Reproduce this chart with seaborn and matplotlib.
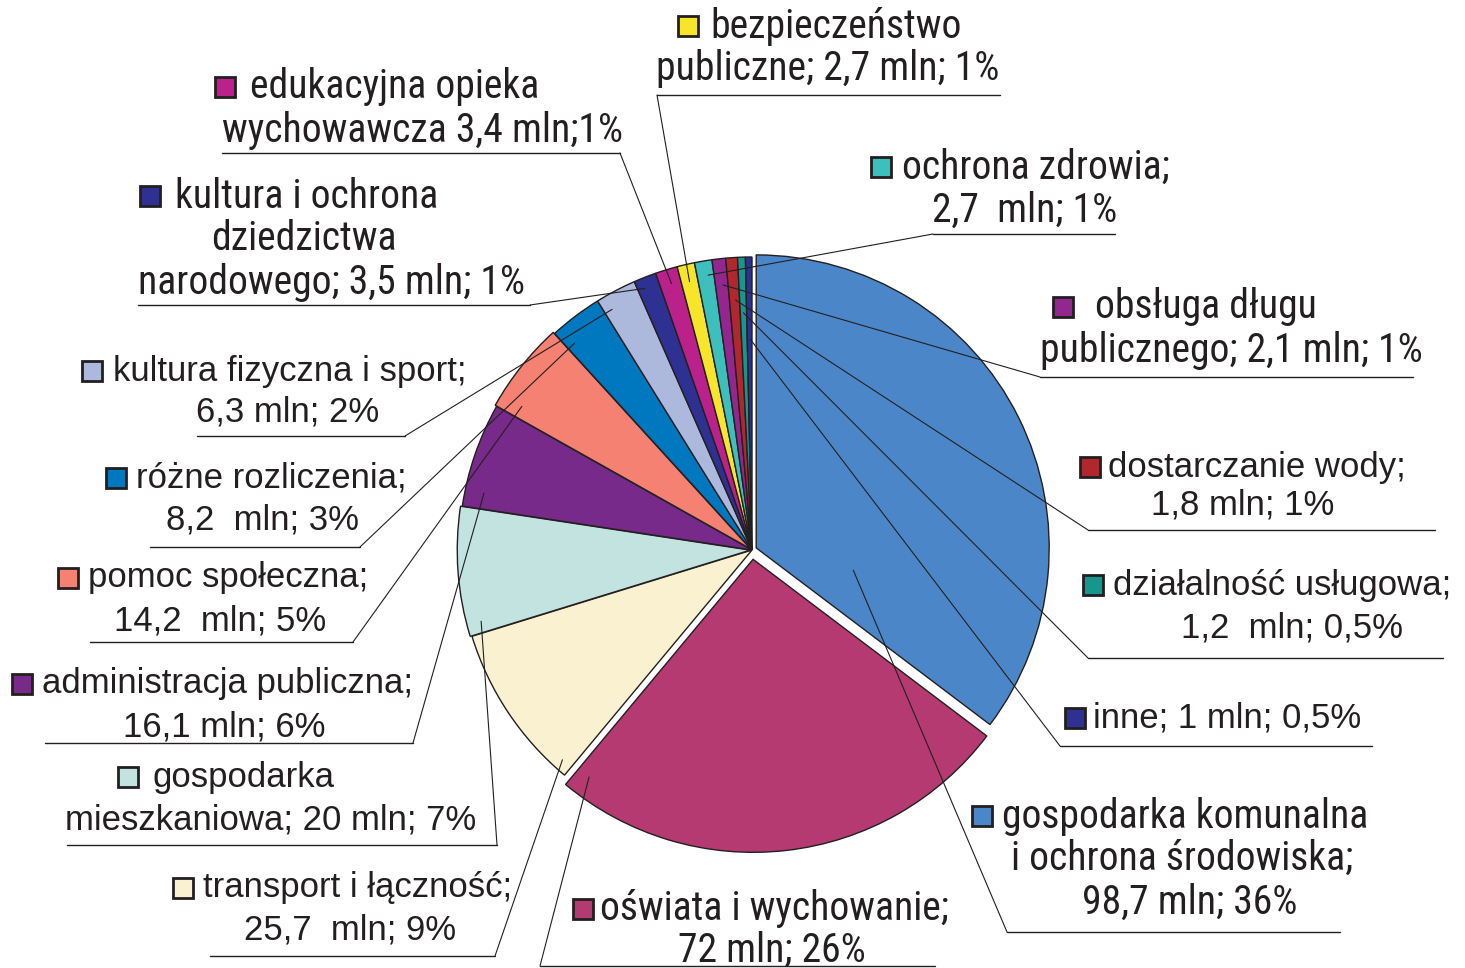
import matplotlib
matplotlib.use("Agg")
import numpy as np
import matplotlib.pyplot as plt
from matplotlib import font_manager
from matplotlib.patches import Rectangle
import seaborn as sns

# --- data ---
categories = [
    "gospodarka komunalna i ochrona środowiska",
    "oświata i wychowanie",
    "transport i łączność",
    "gospodarka mieszkaniowa",
    "administracja publiczna",
    "pomoc społeczna",
    "różne rozliczenia",
    "kultura fizyczna i sport",
    "kultura i ochrona dziedzictwa narodowego",
    "edukacyjna opieka wychowawcza",
    "bezpieczeństwo publiczne",
    "ochrona zdrowia",
    "obsługa długu publicznego",
    "dostarczanie wody",
    "działalność usługowa",
    "inne",
]
values_mln = [98.7, 72, 25.7, 20, 16.1, 14.2, 8.2, 6.3, 3.5, 3.4, 2.7, 2.7, 2.1, 1.8, 1.2, 1.0]
label_lines = [
    ["gospodarka komunalna", "i ochrona środowiska;", "98,7 mln; 36%"],
    ["oświata i wychowanie;", "72 mln; 26%"],
    ["transport i łączność;", "25,7  mln; 9%"],
    ["gospodarka", "mieszkaniowa; 20 mln; 7%"],
    ["administracja publiczna;", "16,1 mln; 6%"],
    ["pomoc społeczna;", "14,2  mln; 5%"],
    ["różne rozliczenia;", "8,2  mln; 3%"],
    ["kultura fizyczna i sport;", "6,3 mln; 2%"],
    ["kultura i ochrona", "dziedzictwa", "narodowego; 3,5 mln; 1%"],
    ["edukacyjna opieka", "wychowawcza 3,4 mln;1%"],
    ["bezpieczeństwo", "publiczne; 2,7 mln; 1%"],
    ["ochrona zdrowia;", "2,7  mln; 1%"],
    ["obsługa długu", "publicznego; 2,1 mln; 1%"],
    ["dostarczanie wody;", "1,8 mln; 1%"],
    ["działalność usługowa;", "1,2  mln; 0,5%"],
    ["inne; 1 mln; 0,5%"],
]
colors = [
    "#4b87c8", "#b53a72", "#f9f1d0", "#c2e3e0", "#772a8a", "#f48172",
    "#0078c0", "#adb8dd", "#2e3192", "#bb218b", "#f7e52a", "#3cbfbd",
    "#93278f", "#b0272d", "#16968c", "#2e3192",
]
# explode as a fraction of the radius
explode_frac = [0.016, 0.032, 0, 0.006, 0, 0.006, 0, 0, 0, 0, 0, 0, 0, 0, 0, 0]

# --- label layout in pixel coordinates (y down) ---
# box: legend square centre; x1: left of first line; cx: centres of the other lines
# ys: line centres; under: (x0, x1, y); side: end of underline where leader starts
# anchor: (fraction along wedge angle, fraction of radius)
layout = [
    dict(box=(982, 816), x1=1002, cx=[1182, 1190], ys=[816, 858, 902], under=(1007, 1340, 932), side="left", anchor=(0.81, 0.34), narrow=True),
    dict(box=(583, 909), x1=600, cx=[772], ys=[909, 950], under=(540, 935, 966), side="left", anchor=(0.97, 0.93), narrow=True),
    dict(box=(183, 888), x1=203, cx=[350], ys=[888, 930], under=(210, 495, 956), side="right", anchor=(0.07, 0.965), narrow=False),
    dict(box=(128, 777), x1=152, cx=[271], ys=[777, 820], under=(67, 497, 845), side="right", anchor=(0.09, 0.95), narrow=False),
    dict(box=(22, 684), x1=42, cx=[224], ys=[684, 727], under=(45, 413, 743), side="right", anchor=(0.16, 0.935), narrow=False),
    dict(box=(68, 578), x1=88, cx=[220], ys=[578, 621], under=(90, 353, 642), side="right", anchor=(0.14, 0.92), narrow=False),
    dict(box=(116, 478), x1=136, cx=[262], ys=[478, 520], under=(150, 360, 547), side="right", anchor=(0.16, 0.93), narrow=False),
    dict(box=(92, 371), x1=113, cx=[288], ys=[371, 412], under=(197, 405, 436), side="right", anchor=(0.2, 0.95), narrow=False),
    dict(box=(150, 196), x1=175, cx=[304, 331], ys=[196, 238, 282], under=(138, 530, 305), side="right", anchor=(0.31, 0.965), narrow=True),
    dict(box=(225, 87), x1=250, cx=[423], ys=[87, 130], under=(222, 620, 153), side="right", anchor=(0.54, 0.95), narrow=True),
    dict(box=(688, 26), x1=710, cx=[828], ys=[26, 68], under=(657, 1000, 95), side="left", anchor=(0.49, 0.94), narrow=True),
    dict(box=(881, 167), x1=902, cx=[1025], ys=[167, 210], under=(933, 1115, 234), side="left", anchor=(0.65, 0.95), narrow=True),
    dict(box=(1063, 307), x1=1095, cx=[1231], ys=[307, 350], under=(1040, 1413, 377), side="left", anchor=(0.6, 0.91), narrow=True),
    dict(box=(1090, 467), x1=1108, cx=[1243], ys=[467, 505], under=(1088, 1435, 530), side="left", anchor=(0.6, 0.855), narrow=False),
    dict(box=(1093, 585), x1=1113, cx=[1292], ys=[585, 628], under=(1088, 1443, 658), side="left", anchor=(0.5, 0.81), narrow=False),
    dict(box=(1075, 718), x1=1093, cx=[], ys=[718], under=(1060, 1372, 746), side="left", anchor=(0.6, 0.72), narrow=False),
]

W, H = 1465, 968
R = 293
INK = "#231f20"

sns.set_theme(style="white")
installed = {f.name for f in font_manager.fontManager.ttflist}
narrow_candidates = ["Liberation Sans Narrow", "Roboto Condensed", "Noto Sans Condensed",
                     "Open Sans Condensed", "DejaVu Sans Condensed", "Liberation Sans"]
narrow_font = next(n for n in narrow_candidates if n in installed or n == "Liberation Sans")
regular_font, regular_size = "Liberation Sans", 25
plt.rcParams["font.family"] = [regular_font, "DejaVu Sans"]

fig = plt.figure(figsize=(W / 100, H / 100), dpi=100)
fig.patch.set_facecolor("white")
ax = fig.add_axes([0, 0, 1, 1])

# fit the condensed labels' size to the width of one line in the reference
renderer = fig.canvas.get_renderer()
probe = fig.text(0, 0, "publiczne; 2,7 mln; 1%", fontsize=30, family=[narrow_font, "DejaVu Sans"])
probe_w = probe.get_window_extent(renderer).width
probe.remove()
narrow_size = min(31, 30 * 343 / probe_w)

# y axis points down, so counterclock=True runs clockwise on screen
wedges, _ = ax.pie(
    values_mln,
    colors=colors,
    explode=[e * R for e in explode_frac],
    startangle=-90,
    counterclock=True,
    center=(752, 550),
    radius=R,
    frame=True,
    wedgeprops=dict(edgecolor=INK, linewidth=1.0),
)
ax.set_xlim(0, W)
ax.set_ylim(H, 0)
ax.set_aspect("equal")
ax.axis("off")

for i, lay in enumerate(layout):
    family = narrow_font if lay["narrow"] else regular_font
    size = narrow_size if lay["narrow"] else regular_size
    lines = label_lines[i]

    bx, by = lay["box"]
    ax.add_patch(Rectangle((bx - 10, by - 10), 20, 20, facecolor=colors[i],
                           edgecolor=INK, linewidth=2, zorder=5))
    ax.text(lay["x1"], lay["ys"][0], lines[0], ha="left", va="center",
            fontsize=size, family=[family, "DejaVu Sans"], color=INK)
    for line, cx, y in zip(lines[1:], lay["cx"], lay["ys"][1:]):
        ax.text(cx, y, line, ha="center", va="center",
                fontsize=size, family=[family, "DejaVu Sans"], color=INK)

    x0, x1, uy = lay["under"]
    ax.plot([x0, x1], [uy, uy], color=INK, linewidth=1.0)

    # leader line from underline end to a point inside the wedge
    w = wedges[i]
    t, rf = lay["anchor"]
    theta = np.deg2rad(w.theta1 + t * (w.theta2 - w.theta1))
    ex = w.center[0] + rf * w.r * np.cos(theta)
    ey = w.center[1] + rf * w.r * np.sin(theta)
    sx = x0 if lay["side"] == "left" else x1
    ax.plot([sx, ex], [uy, ey], color=INK, linewidth=0.8, zorder=4)

fig.savefig("out.png", dpi=100, facecolor="white")
